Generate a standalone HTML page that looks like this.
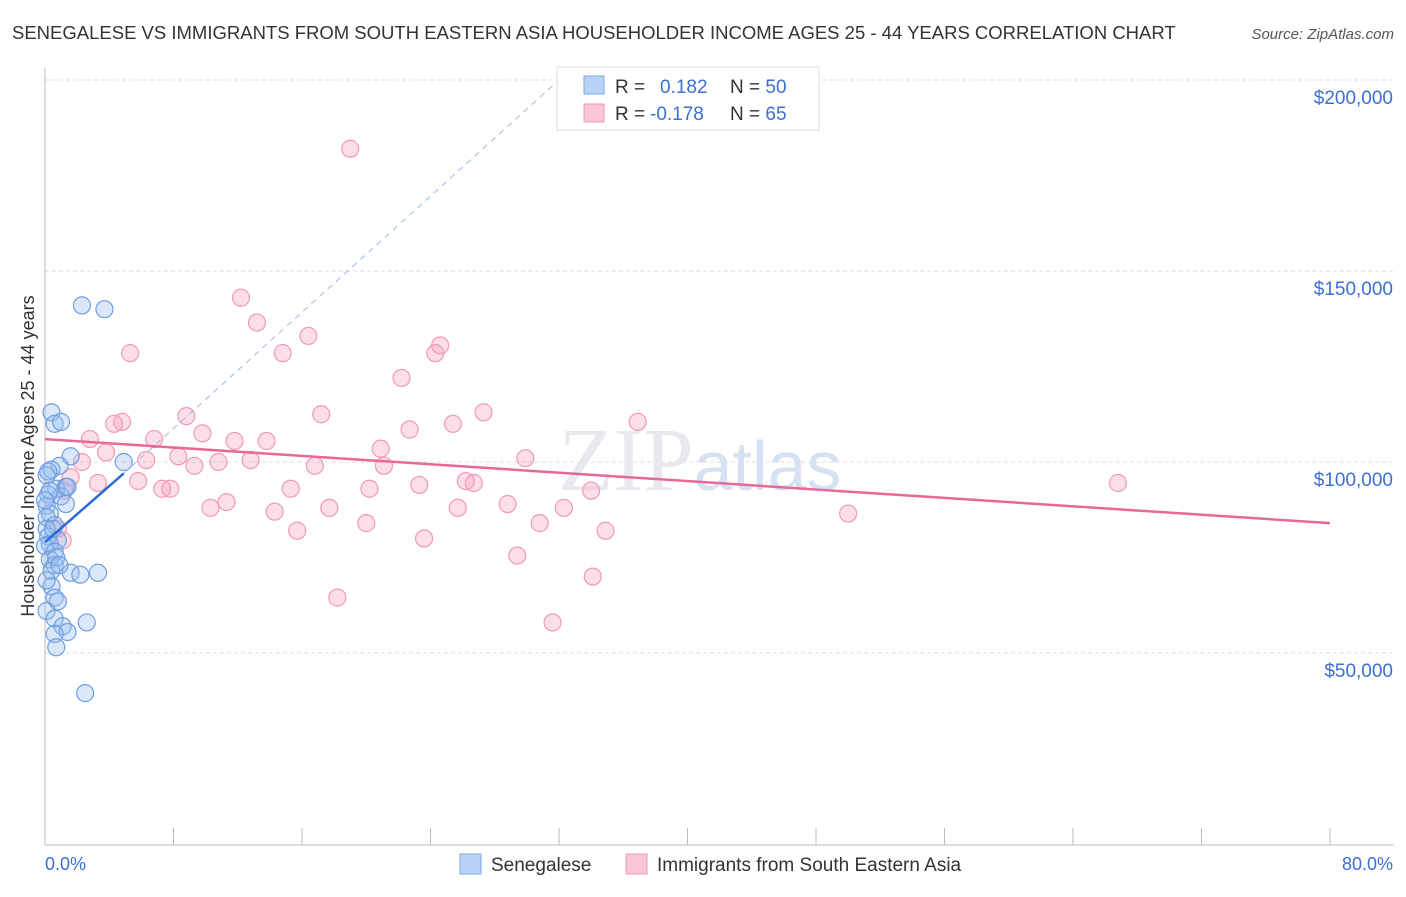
<!DOCTYPE html>
<html><head><meta charset="utf-8"><style>
body{margin:0;background:#fff;font-family:"Liberation Sans",sans-serif;}
</style></head><body>
<svg width="1406" height="892" xmlns="http://www.w3.org/2000/svg" font-family="Liberation Sans, sans-serif">
<text x="12" y="39" font-size="18.5" fill="#333">SENEGALESE VS IMMIGRANTS FROM SOUTH EASTERN ASIA HOUSEHOLDER INCOME AGES 25 - 44 YEARS CORRELATION CHART</text>
<text x="1394" y="39" font-size="15" fill="#555" font-style="italic" text-anchor="end">Source: ZipAtlas.com</text>
<g id="grid"></g>
<text x="700" y="490" font-size="90" fill="#e8e8ee" text-anchor="middle" font-family="Liberation Serif, serif">ZIP<tspan fill="#d6e2f3" font-family="Liberation Sans, sans-serif" font-size="70">atlas</tspan></text>
<line x1="45" y1="68" x2="45" y2="845" stroke="#bbb"/>
<line x1="45" y1="845" x2="1394" y2="845" stroke="#bbb"/>
<text transform="translate(34,456) rotate(-90)" font-size="18" fill="#333" text-anchor="middle">Householder Income Ages 25 - 44 years</text>
<text x="45" y="870" font-size="18" fill="#3b6fd4">0.0%</text>
<text x="1393" y="870" font-size="18" fill="#3b6fd4" text-anchor="end">80.0%</text>
<g id="marks"></g>
<g>
<rect x="557" y="67" width="262" height="63" fill="#fff" stroke="#ddd"/>
<rect x="584" y="76" width="20" height="18" fill="#b8d3f5" stroke="#7fa8e0"/>
<rect x="584" y="104" width="20" height="18" fill="#fbc7d6" stroke="#f09ab4"/>
<text x="615" y="93" font-size="19" fill="#333">R = <tspan fill="#3b6fd4" x="660">0.182</tspan><tspan x="730" fill="#333">N = </tspan><tspan fill="#3b6fd4">50</tspan></text>
<text x="615" y="120" font-size="19" fill="#333">R = <tspan fill="#3b6fd4" x="650">-0.178</tspan><tspan x="730" fill="#333">N = </tspan><tspan fill="#3b6fd4">65</tspan></text>
</g>
<g>
<rect x="460" y="854" width="21" height="20" fill="#b8d3f5" stroke="#7fa8e0"/>
<text x="491" y="871" font-size="19" fill="#333">Senegalese</text>
<rect x="626" y="854" width="21" height="20" fill="#fbc7d6" stroke="#f09ab4"/>
<text x="657" y="871" font-size="19" fill="#333">Immigrants from South Eastern Asia</text>
</g>
</svg>
<script>
const yTicks=[50000,100000,150000,200000];
const yTickLabels=["$50,000","$100,000","$150,000","$200,000"];
const xTickVals=[0,8,16,24,32,40,48,56,64,72,80];
const blueX=[2.3,3.7,0.4,0.6,1.0,4.9,1.6,0.9,0.4,0.1,0.7,1.3,0.2,1.0,1.3,0.1,0.3,0.1,0.6,0.1,0.2,0.8,0.3,0.0,0.6,0.3,0.6,0.4,1.6,2.2,3.3,0.4,0.6,0.8,0.1,0.6,2.6,1.1,1.4,0.6,0.7,2.5,1.4,0.3,0.0,0.7,0.1,0.5,0.9,0.2];
const blueY=[141000,140000,113000,110000,110500,100000,101500,99000,98000,96500,93000,93500,91500,91000,89000,88500,86500,85500,83500,82500,80500,79500,78500,78000,76500,74500,73000,71500,71000,70500,71000,67500,64500,63500,61000,59000,58000,57000,55500,55000,51500,39500,93500,92500,90000,75000,69000,82500,73000,97500];
const pinkX=[19.0,12.2,13.2,16.4,5.3,14.8,24.6,24.3,22.2,8.8,17.2,27.3,4.8,4.3,36.9,25.4,9.8,2.8,6.8,11.8,13.8,22.7,20.9,3.8,8.3,6.3,12.8,29.9,10.8,2.3,9.3,16.8,21.1,1.6,3.3,5.8,23.3,26.2,26.7,7.3,7.8,15.3,20.2,34.0,11.3,10.3,25.7,28.8,32.3,17.7,14.3,50.0,66.8,20.0,30.8,15.7,34.9,23.6,29.4,34.1,18.2,31.6,0.8,1.1,1.2];
const pinkY=[182000,143000,136500,133000,128500,128500,130500,128500,122000,112000,112500,113000,110500,110000,110500,110000,107500,106000,106000,105500,105500,108500,103500,102500,101500,100500,100500,101000,100000,100000,99000,99000,99000,96000,94500,95000,94000,95000,94500,93000,93000,93000,93000,92500,89500,88000,88000,89000,88000,88000,87000,86500,94500,84000,84000,82000,82000,80000,75500,70000,64500,58000,82500,79500,92500];
const blueTrend=[[0,79000],[4.9,97000]];
const blueDash=[[4.9,97000],[32,200000]];
const pinkTrend=[[0,106000],[80,84000]];
const X0=45,X1=1330,Y0=844,PX=191/50000;
const xs=v=>X0+(v/80)*(X1-X0);
const ys=v=>Y0-v*PX;
const NS="http://www.w3.org/2000/svg";
const grid=document.getElementById('grid');
const marks=document.getElementById('marks');
function mk(tag,attrs,parent){const e=document.createElementNS(NS,tag);for(const k in attrs)e.setAttribute(k,attrs[k]);parent.appendChild(e);return e;}
yTicks.forEach((t,i)=>{
  const l=mk('line',{x1:45,x2:1394,y1:ys(t),y2:ys(t),stroke:'#ddd','stroke-dasharray':'4,3'},grid);
  
  
  const tx=mk('text',{x:1393,y:ys(t)+24,'font-size':19,fill:'#3b6fd4','text-anchor':'end'},grid);
  tx.textContent=yTickLabels[i];
  
  
});
xTickVals.forEach(v=>{
  const l=mk('line',{x1:xs(v),x2:xs(v),y1:828,y2:845,stroke:'#bbb'},grid);
  
  
});
pinkX.forEach((x,i)=>{
  const c=mk('circle',{cx:xs(x),cy:ys(pinkY[i]),r:8.5,fill:'rgba(246,160,188,0.35)',stroke:'#f09ab4','stroke-width':1.2},marks);
  
  
});
blueX.forEach((x,i)=>{
  const c=mk('circle',{cx:xs(x),cy:ys(blueY[i]),r:8.5,fill:'rgba(150,190,240,0.35)',stroke:'#6f9ee0','stroke-width':1.2},marks);
  
  
});
const bd=mk('line',{x1:xs(blueDash[0][0]),y1:ys(blueDash[0][1]),x2:xs(blueDash[1][0]),y2:ys(blueDash[1][1]),stroke:'#9bb8e6','stroke-dasharray':'6,5','stroke-width':1},marks);


const bt=mk('line',{x1:xs(blueTrend[0][0]),y1:ys(blueTrend[0][1]),x2:xs(blueTrend[1][0]),y2:ys(blueTrend[1][1]),stroke:'#2a6ad8','stroke-width':2.5},marks);


const pt=mk('line',{x1:xs(pinkTrend[0][0]),y1:ys(pinkTrend[0][1]),x2:xs(pinkTrend[1][0]),y2:ys(pinkTrend[1][1]),stroke:'#e8689a','stroke-width':2.5},marks);


</script>
</body></html>
